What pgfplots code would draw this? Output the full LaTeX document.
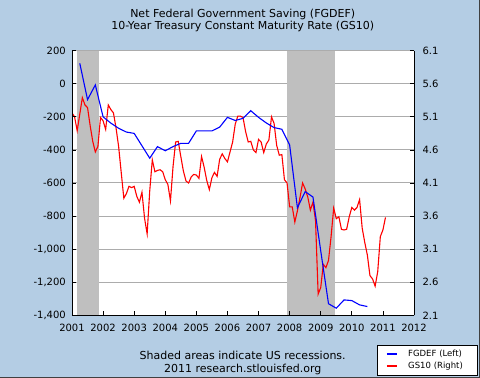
\documentclass[border=0pt]{standalone}
\usepackage{fontspec}
\setmainfont{DejaVu Sans}
\usepackage{pgfplots}
\pgfplotsset{compat=1.18}
\definecolor{bgblue}{RGB}{180,205,228}
\definecolor{gridgray}{RGB}{172,172,172}
\definecolor{shadegray}{RGB}{191,191,191}

\pgfplotsset{common/.style={scale only axis, width=342bp, height=264.6bp,
  xmin=2001, xmax=2012, at={(0,0)}, anchor=south west}}

\begin{document}
\begin{tikzpicture}
\path[use as bounding box] (-72bp,-62.7bp) rectangle (408bp,315.3bp);
\fill[bgblue] (-72bp,-62.7bp) rectangle (408bp,315.3bp);
\draw[black!75, line width=1bp] (407.5bp,315.3bp) -- (407.5bp,-62.2bp) -- (-72bp,-62.2bp);

% Layer A: background, grid, recession shading
\begin{axis}[common, ymin=-1400, ymax=200,
  ytick={-1400,-1200,-1000,-800,-600,-400,-200,0,200},
  xtick=\empty, yticklabels={}, ymajorgrids,
  major grid style={gridgray, line width=1bp},
  major tick length=0pt, axis line style={draw=none},
  axis background/.style={fill=white}]
\addplot[draw=none, fill=shadegray] coordinates {(2001.16,-1400) (2001.16,200) (2001.86,200) (2001.86,-1400)} -- cycle;
\addplot[draw=none, fill=shadegray] coordinates {(2007.92,-1400) (2007.92,200) (2009.45,200) (2009.45,-1400)} -- cycle;
\end{axis}

% Layer B: GS10, right axis
\begin{axis}[common, ymin=2.1, ymax=6.1,
  axis y line*=right, hide x axis,
  axis line style={-, black, line width=0.8bp},
  ytick={2.1,2.6,3.1,3.6,4.1,4.6,5.1,5.6,6.1},
  yticklabels={2.1,2.6,3.1,3.6,4.1,4.6,5.1,5.6,6.1},
  yticklabel pos=right,
  tick align=inside, major tick length=4.5bp,
  major tick style={black, line width=0.8bp},
  yticklabel style={font=\fontsize{10bp}{12bp}\selectfont, anchor=west, xshift=5bp}]
\addplot[red, line width=1.1bp] coordinates {
(2001.000,5.16) (2001.083,5.10) (2001.167,4.89) (2001.250,5.14) (2001.333,5.39) (2001.417,5.28)
(2001.500,5.24) (2001.583,4.97) (2001.667,4.73) (2001.750,4.57) (2001.833,4.65) (2001.917,5.09)
(2002.000,5.04) (2002.083,4.91) (2002.167,5.28) (2002.250,5.21) (2002.333,5.16) (2002.417,4.93)
(2002.500,4.65) (2002.583,4.26) (2002.667,3.87) (2002.750,3.94) (2002.833,4.05) (2002.917,4.03)
(2003.000,4.05) (2003.083,3.90) (2003.167,3.81) (2003.250,3.96) (2003.333,3.57) (2003.417,3.33)
(2003.500,3.98) (2003.583,4.45) (2003.667,4.27) (2003.750,4.29) (2003.833,4.30) (2003.917,4.27)
(2004.000,4.15) (2004.083,4.08) (2004.167,3.83) (2004.250,4.35) (2004.333,4.72) (2004.417,4.73)
(2004.500,4.50) (2004.583,4.28) (2004.667,4.13) (2004.750,4.10) (2004.833,4.19) (2004.917,4.23)
(2005.000,4.22) (2005.083,4.17) (2005.167,4.50) (2005.250,4.34) (2005.333,4.14) (2005.417,4.00)
(2005.500,4.18) (2005.583,4.26) (2005.667,4.20) (2005.750,4.46) (2005.833,4.54) (2005.917,4.47)
(2006.000,4.42) (2006.083,4.57) (2006.167,4.72) (2006.250,4.99) (2006.333,5.11) (2006.417,5.11)
(2006.500,5.09) (2006.583,4.88) (2006.667,4.72) (2006.750,4.73) (2006.833,4.60) (2006.917,4.56)
(2007.000,4.76) (2007.083,4.72) (2007.167,4.56) (2007.250,4.69) (2007.333,4.75) (2007.417,5.10)
(2007.500,5.00) (2007.583,4.67) (2007.667,4.52) (2007.750,4.53) (2007.833,4.15) (2007.917,4.10)
(2008.000,3.74) (2008.083,3.74) (2008.167,3.51) (2008.250,3.68) (2008.333,3.88) (2008.417,4.10)
(2008.500,4.01) (2008.583,3.89) (2008.667,3.69) (2008.750,3.81) (2008.833,3.53) (2008.917,2.42)
(2009.000,2.52) (2009.083,2.87) (2009.167,2.82) (2009.250,2.93) (2009.333,3.29) (2009.417,3.72)
(2009.500,3.56) (2009.583,3.59) (2009.667,3.40) (2009.750,3.39) (2009.833,3.40) (2009.917,3.59)
(2010.000,3.73) (2010.083,3.69) (2010.167,3.73) (2010.250,3.85) (2010.333,3.42) (2010.417,3.20)
(2010.500,3.01) (2010.583,2.70) (2010.667,2.65) (2010.750,2.54) (2010.833,2.76) (2010.917,3.29)
(2011.000,3.39) (2011.083,3.58)
};
\end{axis}

% Layer C: FGDEF, left and bottom axes, legend
\begin{axis}[common, ymin=-1400, ymax=200,
  axis x line*=bottom, axis y line*=left,
  axis line style={-, black, line width=0.8bp},
  xtick={2001,2002,2003,2004,2005,2006,2007,2008,2009,2010,2011,2012},
  xticklabels={2001,2002,2003,2004,2005,2006,2007,2008,2009,2010,2011,2012},
  ytick={-1400,-1200,-1000,-800,-600,-400,-200,0,200},
  yticklabels={{-1,400},{-1,200},{-1,000},{-800},{-600},{-400},{-200},{0},{200}},
  tick align=inside, major tick length=4.5bp,
  major tick style={black, line width=0.8bp},
  ticklabel style={font=\fontsize{10bp}{12bp}\selectfont},
  xticklabel style={yshift=-5.4bp},
  yticklabel style={xshift=-2.7bp},
  legend style={at={(axis description cs:0.8904,-0.1104)}, anchor=north west,
    draw=black, line width=0.8bp, fill=white, inner xsep=0pt, inner ysep=3.4bp,
    font=\fontsize{8.5bp}{10bp}\selectfont, cells={anchor=west},
    nodes={inner xsep=0pt, inner ysep=1.3bp, text height=7bp, text depth=2bp,
      text width=69.3bp, align=left}},
  legend image code/.code={\path (-9.5bp,0pt) (20.7bp,0pt);
    \draw[#1, line width=2bp] (0bp,0bp) -- (10bp,0bp);}]
\addplot[blue, line width=1.1bp] coordinates {
(2001.25,124) (2001.50,-96) (2001.75,-7) (2002.00,-200) (2002.25,-238) (2002.50,-269)
(2002.75,-292) (2003.00,-300) (2003.25,-375) (2003.50,-450) (2003.75,-380) (2004.00,-405)
(2004.25,-380) (2004.50,-360) (2004.75,-360) (2005.00,-285) (2005.25,-285) (2005.50,-285)
(2005.75,-262) (2006.00,-203) (2006.25,-222) (2006.50,-209) (2006.75,-163) (2007.00,-203)
(2007.25,-237) (2007.50,-265) (2007.75,-275) (2008.00,-370) (2008.25,-750) (2008.50,-652)
(2008.75,-685) (2009.00,-1010) (2009.25,-1330) (2009.50,-1357) (2009.75,-1307) (2010.00,-1311)
(2010.25,-1337) (2010.50,-1347)
};
\addlegendentry{FGDEF (Left)}
\addlegendimage{red, line width=1.1bp}
\addlegendentry{GS10 (Right)}
\node[rotate=90, font=\fontsize{11bp}{13bp}\selectfont] at (axis description cs:-0.175,0.44) {(Bil. of \$)};
\node[rotate=90, font=\fontsize{11bp}{13bp}\selectfont] at (axis description cs:1.156,0.44) {(\%)};
\end{axis}

\node[anchor=base, font=\fontsize{11bp}{13bp}\selectfont] at (170.7bp,297.6bp) {Net Federal Government Saving (FGDEF)};
\node[anchor=base, font=\fontsize{11bp}{13bp}\selectfont] at (170.7bp,286bp) {10-Year Treasury Constant Maturity Rate (GS10)};
\node[anchor=base, font=\fontsize{11bp}{13bp}\selectfont] at (170.7bp,-44bp) {Shaded areas indicate US recessions.};
\node[anchor=base, font=\fontsize{11bp}{13bp}\selectfont] at (170.7bp,-57bp) {2011 research.stlouisfed.org};
\end{tikzpicture}
\end{document}
